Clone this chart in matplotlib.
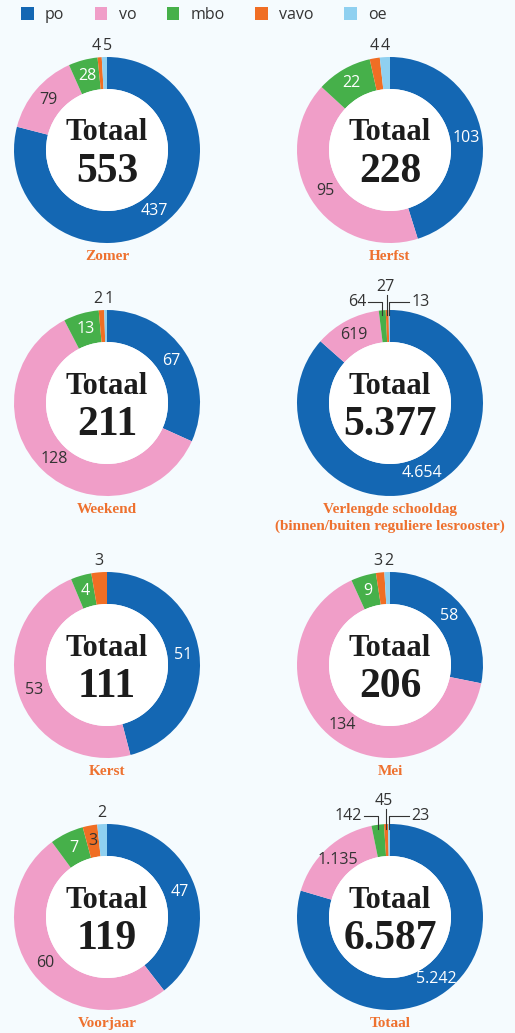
import matplotlib.pyplot as plt
from matplotlib.patches import Circle, Patch
import numpy as np

# data
categories = ['po', 'vo', 'mbo', 'vavo', 'oe']
colors = ['#1467b3', '#f09ec8', '#46b04a', '#f06e24', '#8fd0f0']

titles = ['Zomer', 'Herfst', 'Weekend',
          'Verlengde schooldag\n(binnen/buiten reguliere lesrooster)',
          'Kerst', 'Mei', 'Voorjaar', 'Totaal']
zomer = [437, 79, 28, 4, 5]
herfst = [103, 95, 22, 4, 4]
weekend = [67, 128, 13, 2, 1]
verlengd = [4654, 619, 64, 27, 13]
kerst = [51, 53, 4, 3, 0]
mei = [58, 134, 9, 3, 2]
voorjaar = [47, 60, 7, 3, 2]
totaal = [5242, 1135, 142, 45, 23]
series = [zomer, herfst, weekend, verlengd, kerst, mei, voorjaar, totaal]

# which segments get their label outside the ring
outside = [[3, 4], [3, 4], [3, 4], [2, 3, 4], [3], [3, 4], [4], [2, 3, 4]]
leader = [False, False, False, True, False, False, False, True]

W, H = 515, 1033
BG = '#f5fbfe'
DARK = '#333333'
ORANGE = '#ee712f'
SANS = ['Open Sans', 'DejaVu Sans']
SERIF = ['Liberation Serif', 'DejaVu Serif']

col_x = [107, 390]
row_y = [150, 403, 665, 917]
R, HOLE = 93, 61

fig = plt.figure(figsize=(W / 100, H / 100), dpi=100, facecolor=BG)
ax = fig.add_axes([0, 0, 1, 1])
ax.set_facecolor(BG)


def fmt(v):
    return f"{v:,}".replace(",", ".")


def sy(y):
    return H - y


for i, vals in enumerate(series):
    cx = col_x[i % 2]
    cy = row_y[i // 2]
    total = sum(vals)
    ax.pie(vals, colors=colors, startangle=90, counterclock=False, radius=R,
           center=(cx, sy(cy)), wedgeprops=dict(width=R - HOLE, linewidth=0))
    ax.add_patch(Circle((cx, sy(cy)), HOLE, facecolor='white', edgecolor='none', zorder=3))

    ax.text(cx, sy(cy - 17), 'Totaal', ha='center', va='center', fontsize=22,
            fontweight='bold', family=SERIF, color='#1c1c1c', zorder=4)
    ax.text(cx, sy(cy + 22), fmt(total), ha='center', va='center', fontsize=30,
            fontweight='bold', family=SERIF, color='#1c1c1c', zorder=4)
    ax.text(cx, sy(cy + 100), titles[i], ha='center', va='top', fontsize=11,
            fontweight='bold', family=SERIF, color=ORANGE, linespacing=1.3)

    cum = np.cumsum([0] + vals)
    mids = [(cum[k] + vals[k] / 2) / total * 2 * np.pi for k in range(len(vals))]

    # inside labels
    for k, v in enumerate(vals):
        if v == 0 or k in outside[i]:
            continue
        r = (R + HOLE) / 2
        x = cx + r * np.sin(mids[k])
        y = cy - r * np.cos(mids[k])
        c = 'white' if k in (0, 2) else DARK
        ax.text(x, sy(y), fmt(v), ha='center', va='center', fontsize=11.5,
                family=SANS, color=c, zorder=4)

    idx = [k for k in outside[i] if vals[k] > 0]
    xs = [cx + R * np.sin(mids[k]) for k in idx]
    ytop = cy - R

    if leader[i]:
        # left, middle and right labels with thin leader lines
        for j, (k, xw) in enumerate(zip(idx, xs)):
            if j == 0:
                yl = ytop - 8
                ax.plot([xw, xw, xw - 14], [sy(ytop + 5), sy(yl), sy(yl)],
                        color=DARK, lw=0.8, zorder=5)
                ax.text(xw - 16, sy(yl), fmt(vals[k]), ha='right', va='center',
                        fontsize=11.5, family=SANS, color=DARK)
            elif j == 1:
                ax.plot([xw, xw], [sy(ytop + 5), sy(ytop - 15)], color=DARK,
                        lw=0.8, zorder=5)
                ax.text(xw - 2, sy(ytop - 23), fmt(vals[k]), ha='center',
                        va='center', fontsize=11.5, family=SANS, color=DARK)
            else:
                yl = ytop - 8
                ax.plot([xw, xw, xw + 20], [sy(ytop + 5), sy(yl), sy(yl)],
                        color=DARK, lw=0.8, zorder=5)
                ax.text(xw + 22, sy(yl), fmt(vals[k]), ha='left', va='center',
                        fontsize=11.5, family=SANS, color=DARK)
    else:
        # spread small labels just above the ring
        pos = list(xs)
        for j in range(1, len(pos)):
            pos[j] = max(pos[j], pos[j - 1] + 11)
        if pos:
            shift = np.mean(xs) - np.mean(pos)
            pos = [p + shift for p in pos]
        for k, p in zip(idx, pos):
            ax.text(p, sy(ytop - 11), fmt(vals[k]), ha='center', va='center',
                    fontsize=11.5, family=SANS, color=DARK)

ax.set_xlim(0, W)
ax.set_ylim(0, H)
ax.set_aspect('equal')
ax.axis('off')

handles = [Patch(facecolor=c, edgecolor='none') for c in colors]
fig.legend(handles, categories, loc='center left',
           bbox_to_anchor=(13 / W, 1 - 15 / H), ncol=5, frameon=False,
           borderpad=0, handlelength=0.8, handleheight=0.8, handletextpad=0.7,
           columnspacing=1.9, labelcolor=DARK,
           prop={'family': SANS, 'size': 11.5})

fig.savefig('out.png', dpi=100, facecolor=BG)
